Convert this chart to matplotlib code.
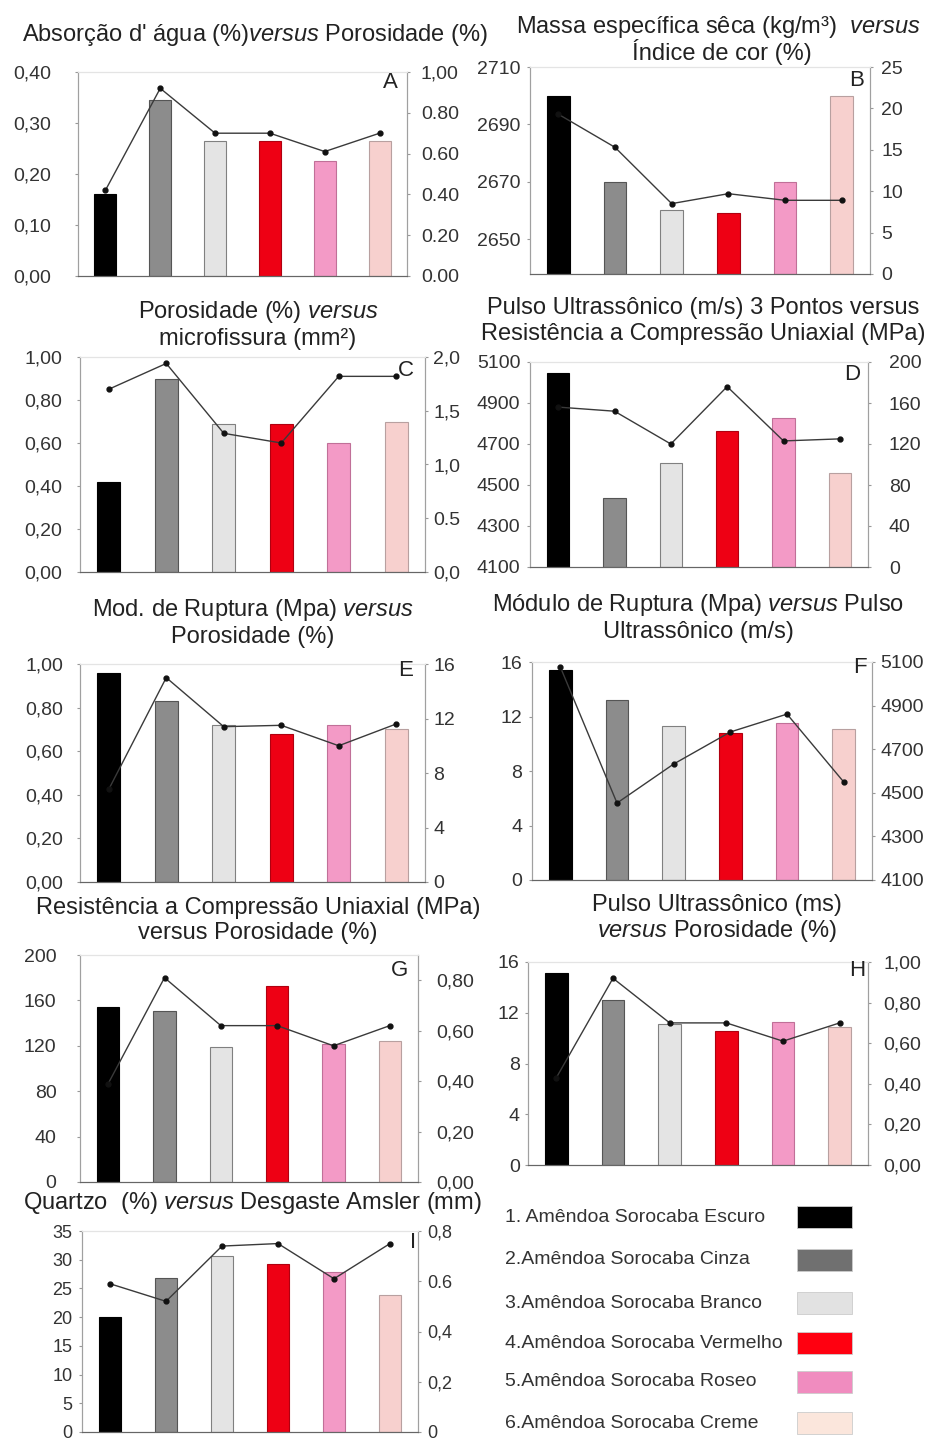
import numpy as np
import matplotlib
matplotlib.use("Agg")
import matplotlib.pyplot as plt
from matplotlib.patches import Rectangle

plt.rcParams['font.family'] = ['Liberation Sans', 'DejaVu Sans']
plt.rcParams['mathtext.fontset'] = 'custom'
plt.rcParams['mathtext.rm'] = 'Liberation Sans'
plt.rcParams['mathtext.it'] = 'Liberation Sans:italic'

W, H = 951, 1443

# ---- data (6 rock varieties, bars = left axis, line = right axis) ----
names = ["1. Amêndoa Sorocaba Escuro", "2.Amêndoa Sorocaba Cinza",
         "3.Amêndoa Sorocaba Branco", "4.Amêndoa Sorocaba Vermelho",
         "5.Amêndoa Sorocaba Roseo", "6.Amêndoa Sorocaba Creme"]
bar_colors = ["#000000", "#8c8c8c", "#e4e4e4", "#ee0014", "#f39ac6", "#f7d0ce"]
bar_edges = ["#000000", "#555555", "#808080", "#b00010", "#c07098", "#b8a0a0"]
legend_colors = ["#000000", "#707070", "#e2e2e2", "#ff0010", "#f08cbf", "#fbe6dc"]

absorcao = [0.16, 0.345, 0.265, 0.265, 0.225, 0.265]
porosidade_a = [0.42, 0.92, 0.70, 0.70, 0.61, 0.70]

massa_esp = [2700, 2670, 2660, 2659, 2670, 2700]
indice_cor = [19.3, 15.3, 8.5, 9.7, 8.9, 8.9]

porosidade_c = [0.42, 0.90, 0.69, 0.69, 0.60, 0.70]
microfissura = [1.70, 1.94, 1.29, 1.20, 1.82, 1.82]

pulso_d = [5045, 4435, 4605, 4765, 4825, 4560]
resist_d = [156, 152, 120, 176, 123, 125]

ruptura_e = [0.96, 0.83, 0.72, 0.68, 0.72, 0.70]
porosidade_e = [6.8, 15.0, 11.4, 11.5, 10.0, 11.6]

ruptura_f = [15.4, 13.2, 11.3, 10.8, 11.5, 11.1]
pulso_f = [5077, 4453, 4632, 4779, 4861, 4550]

resist_g = [154, 151, 119, 173, 122, 124]
porosidade_g = [0.39, 0.81, 0.62, 0.62, 0.54, 0.62]

pulso_h = [15.1, 13.0, 11.1, 10.6, 11.3, 10.9]
porosidade_h = [0.43, 0.92, 0.70, 0.70, 0.61, 0.70]

quartzo = [20.0, 26.8, 30.7, 29.2, 27.8, 23.8]
desgaste = [0.59, 0.52, 0.74, 0.75, 0.61, 0.75]

# ticks / tick labels
tk_a_l = [0, 0.1, 0.2, 0.3, 0.4]; tl_a_l = ["0,00", "0,10", "0,20", "0,30", "0,40"]
tk_a_r = [0, 0.2, 0.4, 0.6, 0.8, 1.0]; tl_a_r = ["0.00", "0.20", "0.40", "0.60", "0.80", "1,00"]
tk_b_l = [2650, 2670, 2690, 2710]
tk_b_r = [0, 5, 10, 15, 20, 25]
tk_c_l = [0, 0.2, 0.4, 0.6, 0.8, 1.0]; tl_c_l = ["0,00", "0,20", "0,40", "0,60", "0,80", "1,00"]
tk_c_r = [0, 0.5, 1.0, 1.5, 2.0]; tl_c_r = ["0,0", "0.5", "1,0", "1,5", "2,0"]
tk_d_l = [4100, 4300, 4500, 4700, 4900, 5100]
tk_d_r = [0, 40, 80, 120, 160, 200]
tk_16 = [0, 4, 8, 12, 16]
tk_g_l = [0, 40, 80, 120, 160, 200]
tk_g_r = [0, 0.2, 0.4, 0.6, 0.8]; tl_g_r = ["0,00", "0,20", "0,40", "0,60", "0,80"]
tk_i_l = [0, 5, 10, 15, 20, 25, 30, 35]
tk_i_r = [0, 0.2, 0.4, 0.6, 0.8]; tl_i_r = ["0", "0,2", "0,4", "0.6", "0,8"]

fig = plt.figure(figsize=(W / 100, H / 100), dpi=100)


def fx(x):
    return x / W


def fy(y):
    return 1 - y / H


def panel(box, bars, line, ylim_l, ylim_r, ticks_l, ticks_r, labels_l=None,
          labels_r=None, pads=(10, 6), fs=14):
    left, right, top, bottom = box
    ax = fig.add_axes([fx(left), fy(bottom), (right - left) / W, (bottom - top) / H])
    x = np.arange(6)
    base = ylim_l[0]
    ax.bar(x, np.array(bars) - base, bottom=base, width=0.4, color=bar_colors,
           edgecolor=bar_edges, linewidth=0.8)
    ax.set_xlim(-0.5, 5.5)
    ax.set_ylim(*ylim_l)
    ax.set_xticks([])
    ax.set_yticks(ticks_l)
    if labels_l is not None:
        ax.set_yticklabels(labels_l)
    ax2 = ax.twinx()
    ax2.plot(x, line, color="#3a3a3a", lw=1.0, marker="o", ms=3.5,
             mfc="#111111", mec="#111111", clip_on=False)
    ax2.set_ylim(*ylim_r)
    ax2.set_yticks(ticks_r)
    if labels_r is not None:
        ax2.set_yticklabels(labels_r)
    for a in (ax, ax2):
        for s in ("left", "right"):
            a.spines[s].set_color("#a0a0a0")
        a.spines["bottom"].set_color("#666666")
        a.spines["top"].set_color("#e4e4e4")
    ax.tick_params(axis="y", length=2, color="#999999", labelsize=fs,
                   labelcolor="#333333", pad=pads[0])
    ax2.tick_params(axis="y", length=2, color="#999999", labelsize=fs,
                    labelcolor="#333333", pad=pads[1])
    return ax, ax2


# panel boxes in pixels: left, right, top, bottom
panel((78, 407, 72, 276), absorcao, porosidade_a, (0, 0.40), (0, 1.0),
      tk_a_l, tk_a_r, tl_a_l, tl_a_r, pads=(17, 8))
panel((530, 870, 67, 274), massa_esp, indice_cor, (2637.8, 2710), (0, 25),
      tk_b_l, tk_b_r, pads=(5, 6))
panel((80, 425, 357, 572), porosidade_c, microfissura, (0, 1.0), (0, 2.0),
      tk_c_l, tk_c_r, tl_c_l, tl_c_r, pads=(11, 4))
panel((530, 868, 362, 567), pulso_d, resist_d, (4100, 5100), (0, 200),
      tk_d_l, tk_d_r, pads=(5, 13))
panel((80, 425, 664, 882), ruptura_e, porosidade_e, (0, 1.0), (0, 16),
      tk_c_l, tk_16, tl_c_l, None, pads=(10, 4))
panel((532, 872, 662, 880), ruptura_f, pulso_f, (0, 16), (4100, 5100),
      tk_16, tk_d_l, None, None, pads=(5, 4))
panel((80, 418, 955, 1182), resist_g, porosidade_g, (0, 200), (0, 0.9),
      tk_g_l, tk_g_r, None, tl_g_r, pads=(15, 11))
panel((528, 868, 962, 1165), pulso_h, porosidade_h, (0, 16), (0, 1.0),
      tk_16, tk_c_l, None, tl_c_l, pads=(4, 9))
panel((82, 418, 1231, 1432), quartzo, desgaste, (0, 35), (0, 0.8),
      tk_i_l, tk_i_r, None, tl_i_r, pads=(5, 5), fs=13)

# titles
tc = "#222222"
tfs = 17
titles = [
    (255, 35, r"Absorção d' água (%)$\it{versus}$ Porosidade (%)"),
    (718, 27, r"Massa específica sêca (kg/m³)  $\it{versus}$"),
    (722, 52, "Índice de cor (%)"),
    (258, 312, r"Porosidade (%) $\it{versus}$"),
    (258, 339, "microfissura (mm²)"),
    (703, 308, "Pulso Ultrassônico (m/s) 3 Pontos versus"),
    (703, 334, "Resistência a Compressão Uniaxial (MPa)"),
    (253, 610, r"Mod. de Ruptura (Mpa) $\it{versus}$"),
    (253, 637, "Porosidade (%)"),
    (698, 605, r"Módulo de Ruptura (Mpa) $\it{versus}$ Pulso"),
    (698, 632, "Ultrassônico (m/s)"),
    (258, 908, "Resistência a Compressão Uniaxial (MPa)"),
    (258, 933, "versus Porosidade (%)"),
    (717, 905, "Pulso Ultrassônico (ms)"),
    (717, 931, r"$\it{versus}$ Porosidade (%)"),
    (252, 1203, r"Quartzo  (%) $\it{versus}$ Desgaste Amsler (mm)"),
]
for x, y, s in titles:
    fig.text(fx(x), fy(y), s, ha="center", va="center", fontsize=tfs, color=tc)

letters = [("A", 390, 82), ("B", 857, 80), ("C", 406, 370), ("D", 852, 375),
           ("E", 406, 670), ("F", 860, 667), ("G", 400, 970), ("H", 857, 970),
           ("I", 413, 1243)]
for s, x, y in letters:
    fig.text(fx(x), fy(y), s, ha="center", va="center", fontsize=16, color=tc)

# legend
leg_y = [1217, 1260, 1303, 1343, 1382, 1423]
for name, col, y in zip(names, legend_colors, leg_y):
    fig.text(fx(505), fy(y), name, ha="left", va="center", fontsize=14, color="#333333")
    fig.patches.append(Rectangle((fx(797), fy(y + 11)), 55 / W, 22 / H,
                                 transform=fig.transFigure, facecolor=col,
                                 edgecolor="#cccccc", linewidth=0.6))

fig.savefig("out.png", dpi=100, facecolor="white")
